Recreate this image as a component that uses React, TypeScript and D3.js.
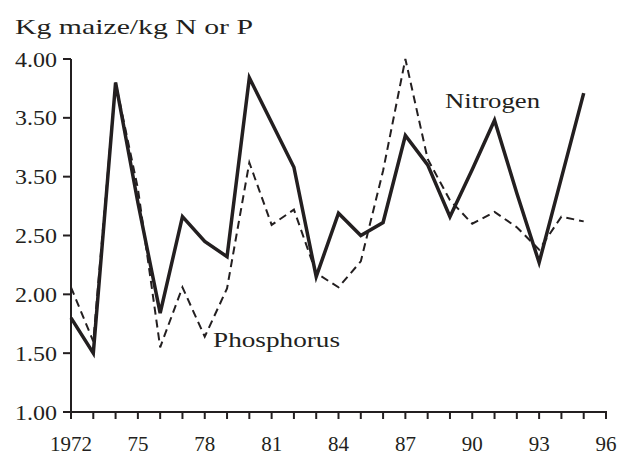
import React from "react";
import * as d3 from "d3";

const years = d3.range(1972, 1996);
const nitrogen = [1.80, 1.50, 3.80, 2.78, 1.84, 2.66, 2.45, 2.32, 3.84, 3.46, 3.08, 2.15, 2.69, 2.50, 2.61, 3.35, 3.10, 2.66, 3.06, 3.48, 2.86, 2.27, 2.99, 3.71];
const phosphorus = [2.06, 1.60, 3.80, 2.90, 1.55, 2.06, 1.64, 2.05, 3.12, 2.59, 2.72, 2.18, 2.06, 2.28, 3.05, 4.00, 3.15, 2.80, 2.60, 2.70, 2.57, 2.38, 2.66, 2.62];
const yTickValues = [1.0, 1.5, 2.0, 2.5, 3.0, 3.5, 4.0];
const yTickLabels = ["1.00", "1.50", "2.00", "2.50", "3.50", "3.50", "4.00"];
const xTickYears = d3.range(1972, 1997);
const xLabelYears = [1972, 1975, 1978, 1981, 1984, 1987, 1990, 1993, 1996];
const xLabelTexts = ["1972", "75", "78", "81", "84", "87", "90", "93", "96"];

const INK = "#231f20";
const FONT = "'Times New Roman', Times, Tinos, 'Liberation Serif', 'Nimbus Roman', serif";

export default function App() {
  const x = d3.scaleLinear().domain([1972, 1996]).range([71, 606]);
  const y = d3.scaleLinear().domain([1, 4]).range([412, 59]);
  const line = d3
    .line<number>()
    .x((_, i) => x(years[i]))
    .y((d) => y(d));

  return (
    <svg
      width={624}
      height={455}
      style={{ position: "absolute", left: 0, top: 0, background: "#fff" }}
    >
      <rect width={624} height={455} fill="#fff" />
      <text x={15} y={34} style={{ fontFamily: FONT }} fontSize={22} fill={INK} textLength={238} lengthAdjust="spacingAndGlyphs">
        Kg maize/kg N or P
      </text>
      {/* y axis */}
      <line x1={71} x2={71} y1={y(4)} y2={y(1)} stroke={INK} strokeWidth={2} />
      {yTickValues.map((v, i) => (
        <g key={"y" + i}>
          <line x1={63} x2={71} y1={y(v)} y2={y(v)} stroke={INK} strokeWidth={2} />
          <text x={57} y={y(v) + 7.5} textAnchor="end" style={{ fontFamily: FONT }} fontSize={21} fill={INK} textLength={42} lengthAdjust="spacingAndGlyphs">
            {yTickLabels[i]}
          </text>
        </g>
      ))}
      {/* x axis */}
      <line x1={x(1972) - 1} x2={x(1996) + 1} y1={412} y2={412} stroke={INK} strokeWidth={2} />
      {xTickYears.map((yr) => (
        <line key={"xt" + yr} x1={x(yr)} x2={x(yr)} y1={412} y2={419} stroke={INK} strokeWidth={2} />
      ))}
      {xLabelYears.map((yr, i) => (
        <text key={"xl" + yr} x={x(yr)} y={451} textAnchor="middle" style={{ fontFamily: FONT }} fontSize={21} fill={INK}>
          {xLabelTexts[i]}
        </text>
      ))}
      <path d={line(phosphorus) || ""} fill="none" stroke={INK} strokeWidth={2} strokeDasharray="8,5" strokeLinejoin="miter" />
      <path d={line(nitrogen) || ""} fill="none" stroke={INK} strokeWidth={3.5} strokeLinejoin="miter" />
      <text x={445} y={108} style={{ fontFamily: FONT }} fontSize={22} fill={INK} textLength={95} lengthAdjust="spacingAndGlyphs">
        Nitrogen
      </text>
      <text x={213} y={347} style={{ fontFamily: FONT }} fontSize={22} fill={INK} textLength={127} lengthAdjust="spacingAndGlyphs">
        Phosphorus
      </text>
    </svg>
  );
}
